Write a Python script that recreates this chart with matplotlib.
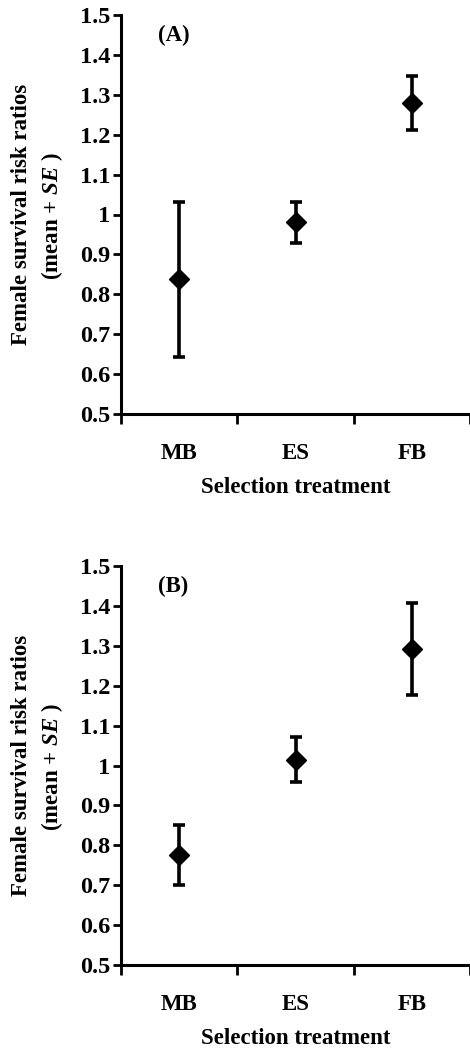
import matplotlib
matplotlib.use('Agg')
import matplotlib.pyplot as plt
from matplotlib.ticker import FixedLocator, NullFormatter

plt.rcParams['font.family'] = ['Liberation Serif', 'DejaVu Serif']
plt.rcParams['font.weight'] = 'bold'
plt.rcParams['axes.labelweight'] = 'bold'
plt.rcParams['mathtext.fontset'] = 'custom'
plt.rcParams['mathtext.rm'] = 'Liberation Serif:bold'
plt.rcParams['mathtext.bf'] = 'Liberation Serif:bold'
plt.rcParams['mathtext.it'] = 'Liberation Serif:italic'

# data
treatments = ['MB', 'ES', 'FB']
panel_labels = ['(A)', '(B)']
mean_a = [0.838, 0.981, 1.279]
upper_a = [1.031, 1.032, 1.347]
lower_a = [0.644, 0.928, 1.212]
mean_b = [0.776, 1.014, 1.291]
upper_b = [0.852, 1.072, 1.407]
lower_b = [0.700, 0.959, 1.176]
yticks = [0.5, 0.6, 0.7, 0.8, 0.9, 1.0, 1.1, 1.2, 1.3, 1.4, 1.5]
ytick_labels = ['0.5', '0.6', '0.7', '0.8', '0.9', '1', '1.1', '1.2', '1.3', '1.4', '1.5']

W, H = 470, 1061
FS = 16.5
fig = plt.figure(figsize=(W / 100, H / 100), dpi=100)


def panel(rect, means, ups, lows, tag):
    ax = fig.add_axes(rect)
    x = list(range(len(treatments)))
    err = [[m - l for m, l in zip(means, lows)], [u - m for m, u in zip(means, ups)]]
    ax.errorbar(x, means, yerr=err, fmt='none', ecolor='black', elinewidth=2.6,
                capsize=4.5, capthick=2.6, zorder=2)
    ax.plot(x, means, linestyle='none', marker='D', markersize=10.5,
            color='black', zorder=3)

    ax.set_xlim(-0.5, len(treatments) - 0.5)
    ax.set_ylim(0.5, 1.5)
    ax.spines['top'].set_visible(False)
    ax.spines['right'].set_visible(False)
    for s in ('left', 'bottom'):
        ax.spines[s].set_linewidth(2.2)

    ax.set_yticks(yticks)
    ax.set_yticklabels(ytick_labels)
    ax.tick_params(axis='y', direction='out', length=6, width=2, pad=1.5, labelsize=17.5)

    # ticks at the category edges, labels at the centres
    ax.xaxis.set_major_locator(FixedLocator([-0.5, 0.5, 1.5, 2.5]))
    ax.xaxis.set_major_formatter(NullFormatter())
    ax.xaxis.set_minor_locator(FixedLocator(x))
    ax.set_xticklabels(treatments, minor=True)
    ax.tick_params(axis='x', which='major', direction='out', length=7, width=2)
    ax.tick_params(axis='x', which='minor', length=0, pad=21, labelsize=FS)

    ax.text(0.5, -0.185, 'Selection treatment', fontsize=FS, ha='center',
            va='center', transform=ax.transAxes)
    ax.text(-0.284, 0.5, 'Female survival risk ratios', fontsize=FS, rotation=90,
            ha='center', va='center', transform=ax.transAxes)
    ax.text(-0.198, 0.495, '(mean + $\\mathit{SE}$ )', fontsize=FS, rotation=90,
            ha='center', va='center', transform=ax.transAxes)
    ax.text(-0.05, 1.448, tag, fontsize=FS, ha='center', va='center')
    return ax


ax_a = panel([121 / W, 1 - 414 / H, 349 / W, 399 / H], mean_a, upper_a, lower_a, panel_labels[0])
ax_b = panel([121 / W, 1 - 965 / H, 349 / W, 399 / H], mean_b, upper_b, lower_b, panel_labels[1])

fig.savefig('out.png', dpi=100)
